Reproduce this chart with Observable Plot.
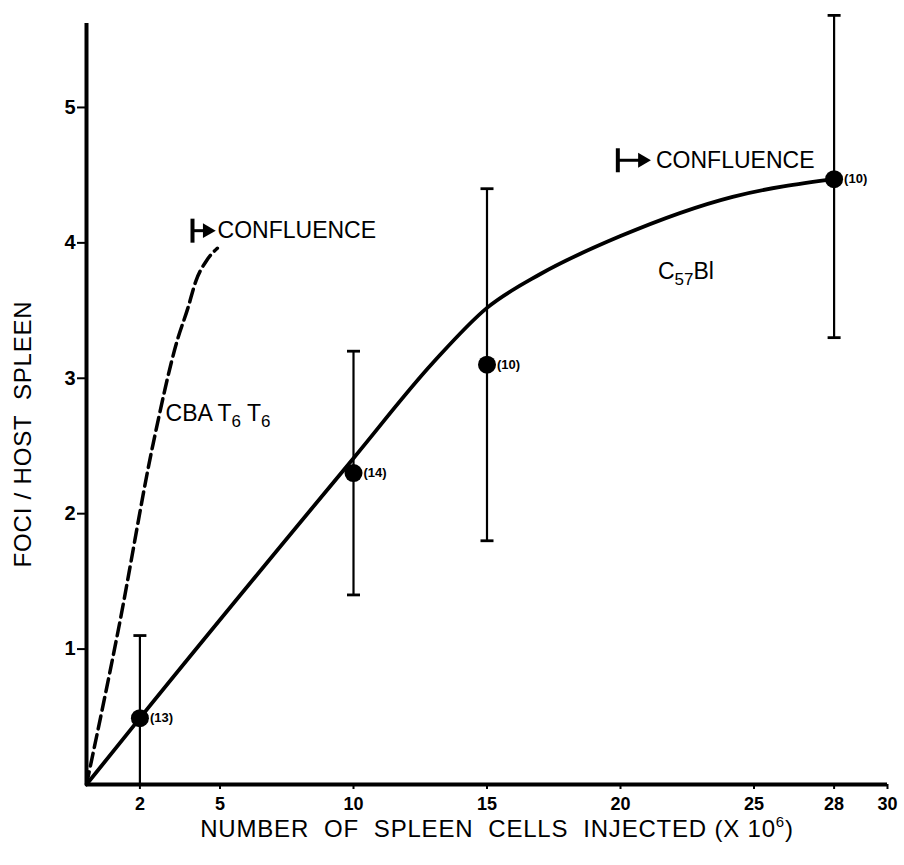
<!DOCTYPE html>
<html>
<head>
<meta charset="utf-8">
<script src="https://cdn.jsdelivr.net/npm/d3@7"></script>
<script src="https://cdn.jsdelivr.net/npm/@observablehq/plot@0.6"></script>
<style>
  html, body { margin: 0; padding: 0; background: #fff; }
  #chart svg g[aria-label="x-axis tick label"] text,
  #chart svg g[aria-label="y-axis tick label"] text { font-weight: bold; }
</style>
</head>
<body>
<div id="chart"></div>
<script>
// ---- data ----
const xTicks = [2, 5, 10, 15, 20, 25, 28, 30];
const yTicks = [1, 2, 3, 4, 5];

// C57Bl measured points with error bars and sample sizes
const c57X = [2, 10, 15, 28];
const c57Y = [0.49, 2.30, 3.10, 4.47];
const c57Lo = [0, 1.40, 1.80, 3.30];
const c57Hi = [1.10, 3.20, 4.40, 5.68];
const c57N = ["(13)", "(14)", "(10)", "(10)"];

// C57Bl fitted curve (solid)
const c57CurveX = [0, 2, 10, 13, 15, 17, 20, 24.2, 28];
const c57CurveY = [0, 0.49, 2.41, 3.12, 3.52, 3.77, 4.05, 4.34, 4.47];

// CBA T6T6 curve (dashed)
const cbaCurveX = [0, 1.2, 2.5, 3.4, 3.8, 4.1, 4.5, 4.9];
const cbaCurveY = [0, 1.15, 2.52, 3.28, 3.52, 3.72, 3.87, 3.96];

// annotations
const strainLabels = ["CBA T₆ T₆", "C₅₇Bl"];
const strainLabelX = [2.96, 21.4];
const strainLabelY = [2.74, 3.79];

const confluenceText = ["CONFLUENCE", "CONFLUENCE"];
const confluenceBarX = [3.97, 19.9];
const confluenceHeadX = [4.52, 20.82];
const confluenceTextX = [4.91, 21.33];
const confluenceY = [4.09, 4.61];

const xLabel = "NUMBER  OF  SPLEEN  CELLS  INJECTED (X 10⁶)";
const yLabel = "FOCI / HOST  SPLEEN";

// ---- tables built from the arrays ----
const points = c57X.map((x, i) => ({x, y: c57Y[i], lo: c57Lo[i], hi: c57Hi[i], n: c57N[i]}));
const c57Curve = c57CurveX.map((x, i) => ({x, y: c57CurveY[i]}));
const cbaCurve = cbaCurveX.map((x, i) => ({x, y: cbaCurveY[i]}));
const strains = strainLabels.map((t, i) => ({t, x: strainLabelX[i], y: strainLabelY[i]}));
const conf = confluenceText.map((t, i) => ({t, bar: confluenceBarX[i], head: confluenceHeadX[i], tx: confluenceTextX[i], y: confluenceY[i]}));

const hCap = {draw(ctx) { ctx.moveTo(-6.5, 0); ctx.lineTo(6.5, 0); }};
const vBar = {draw(ctx) { ctx.moveTo(0, -12); ctx.lineTo(0, 12); }};

const font = "'Liberation Sans', Arial, sans-serif";

const chart = Plot.plot({
  width: 904,
  height: 865,
  marginLeft: 86,
  marginRight: 17,
  marginTop: 23,
  marginBottom: 81,
  x: {domain: [0, 30], range: [86, 887]},
  y: {domain: [0, 5.62], range: [784, 23]},
  style: {fontFamily: font, background: "#fff", color: "#000", overflow: "visible"},
  marks: [
    Plot.axisX({ticks: xTicks, tickSize: 5, tickPadding: 8, fontSize: 18, fontWeight: "bold", strokeWidth: 2, label: null, tickFormat: d => String(d)}),
    Plot.axisY({ticks: yTicks, tickSize: 9, tickPadding: 2, fontSize: 20, fontWeight: "bold", strokeWidth: 2, label: null, tickFormat: d => String(d)}),
    Plot.ruleY([0], {x1: 0, x2: 30, strokeWidth: 4}),
    Plot.ruleX([0], {y1: 0, y2: 5.62, strokeWidth: 4}),

    // curves
    Plot.line(cbaCurve, {x: "x", y: "y", curve: "monotone-x", strokeWidth: 3.5, strokeDasharray: "13,6"}),
    Plot.line(c57Curve, {x: "x", y: "y", curve: "monotone-x", strokeWidth: 3.8}),

    // error bars
    Plot.ruleX(points, {x: "x", y1: "lo", y2: "hi", strokeWidth: 2.2}),
    Plot.dot(points, {x: "x", y: "hi", symbol: hCap, r: 6, stroke: "#000", strokeWidth: 2.8, fill: "none"}),
    Plot.dot(points, {x: "x", y: "lo", symbol: hCap, r: 6, stroke: "#000", strokeWidth: 2.8, fill: "none"}),
    Plot.dot(points, {x: "x", y: "y", r: 9, fill: "#000", stroke: "none"}),
    Plot.text(points, {x: "x", y: "y", text: "n", dx: 10, textAnchor: "start", fontSize: 13, fontWeight: "bold"}),

    // strain labels
    Plot.text(strains, {x: "x", y: "y", text: "t", textAnchor: "start", fontSize: 23}),

    // confluence markers
    Plot.dot(conf, {x: "bar", y: "y", symbol: vBar, r: 6, stroke: "#000", strokeWidth: 4, fill: "none"}),
    Plot.ruleY(conf, {y: "y", x1: "bar", x2: "head", strokeWidth: 3}),
    Plot.dot(conf, {x: "head", y: "y", symbol: "triangle", rotate: 90, r: 5.5, fill: "#000", stroke: "none"}),
    Plot.text(conf, {x: "tx", y: "y", text: "t", textAnchor: "start", fontSize: 23}),

    // axis titles
    Plot.text([xLabel], {frameAnchor: "bottom", text: d => d, textAnchor: "middle", lineAnchor: "middle", dx: 10, dy: 45, fontSize: 24}),
    Plot.text([yLabel], {frameAnchor: "left", text: d => d, textAnchor: "middle", lineAnchor: "middle", rotate: -90, dx: -63, dy: 30, fontSize: 24})
  ]
});

// slightly wider letter spacing for the axis titles, like the hand lettering
chart.querySelectorAll("text").forEach(el => {
  if (el.textContent === xLabel || el.textContent === yLabel) el.setAttribute("letter-spacing", "0.8");
});

// turn Unicode sub/superscript digits into shifted tspans
const SUB = "₀₁₂₃₄₅₆₇₈₉", SUP = "⁰¹²³⁴⁵⁶⁷⁸⁹";
chart.querySelectorAll("text").forEach(el => {
  const s = el.textContent;
  if (![...s].some(ch => SUB.includes(ch) || SUP.includes(ch))) return;
  const runs = [];
  for (const ch of s) {
    let kind = "n", c = ch;
    if (SUB.includes(ch)) { kind = "sub"; c = String(SUB.indexOf(ch)); }
    else if (SUP.includes(ch)) { kind = "sup"; c = String(SUP.indexOf(ch)); }
    if (runs.length && runs[runs.length - 1].kind === kind) runs[runs.length - 1].s += c;
    else runs.push({kind, s: c});
  }
  while (el.firstChild) el.removeChild(el.firstChild);
  let shift = 0;
  for (const r of runs) {
    const ts = document.createElementNS("http://www.w3.org/2000/svg", "tspan");
    const target = r.kind === "sub" ? 6 : r.kind === "sup" ? -10 : 0;
    if (target - shift !== 0) ts.setAttribute("dy", String(target - shift));
    shift = target;
    if (r.kind !== "n") ts.setAttribute("font-size", r.kind === "sub" ? "17" : "15");
    ts.textContent = r.s;
    el.appendChild(ts);
  }
});

document.getElementById("chart").appendChild(chart);
</script>
</body>
</html>
